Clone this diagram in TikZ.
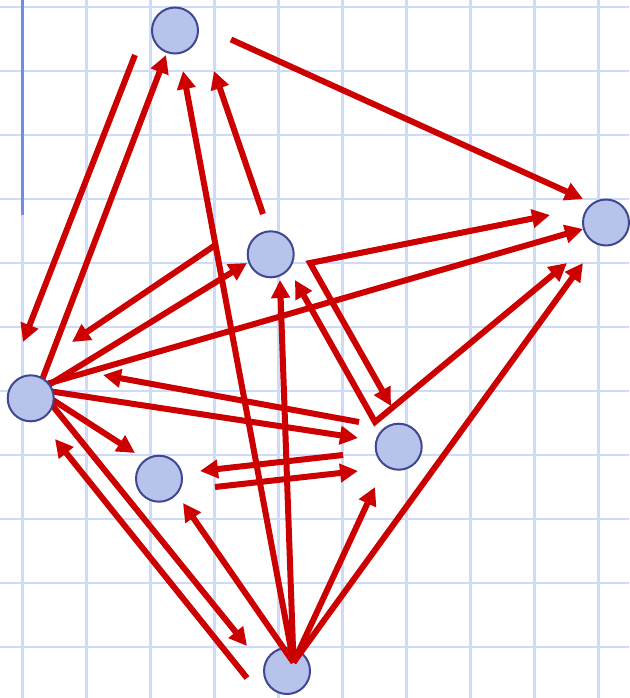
\documentclass[tikz,border=0pt]{standalone}
\usetikzlibrary{arrows.meta}
\definecolor{gridc}{RGB}{206,218,250}
\definecolor{vline}{RGB}{110,140,235}
\definecolor{nodefill}{RGB}{183,195,234}
\definecolor{nodeedge}{RGB}{62,72,142}
\definecolor{arred}{RGB}{204,0,0}
\tikzset{
  gridline/.style={draw=gridc, line width=2.7pt},
  vertex/.style={circle, draw=nodeedge, fill=nodefill, line width=2pt, inner sep=0pt, minimum size=46pt},
  link/.style={draw=arred, line width=6pt, -{Triangle[length=18pt,width=18pt]}},
  dlink/.style={draw=arred, line width=6pt, line join=miter, {Triangle[length=18pt,width=18pt]}-{Triangle[length=18pt,width=18pt]}},
  fromD/.style={shorten <=-8pt}
}
\begin{document}
\begin{tikzpicture}[x=1pt, y=-1pt]
\useasboundingbox (0,0) rectangle (629,698);
\fill[white] (0,0) rectangle (629,698);
% grid
\foreach \i in {0,...,9} { \draw[gridline] ({22.5+64*\i},0) -- ({22.5+64*\i},698); }
\foreach \j in {0,...,10} { \draw[gridline] (0,{7+64*\j}) -- (629,{7+64*\j}); }
\draw[draw=vline, line width=2.4pt] (22.5,0) -- (22.5,215);

% bottom node (drawn under its connectors)
\node[vertex] (G) at (287,671) {};

% connector end points
\coordinate (a1) at (231,39.5);  \coordinate (b1) at (583,199);
\coordinate (a2) at (135,55);    \coordinate (d2) at (23,342);
\coordinate (d3) at (42,380);    \coordinate (a3) at (166,55);
\coordinate (c4) at (263,214);   \coordinate (a4) at (214,71);
\coordinate (g0) at (293.5,662.5);
\coordinate (a5) at (183,71);
\coordinate (c6) at (214,246);   \coordinate (d6) at (72,342);
\coordinate (d7) at (47,386);    \coordinate (c7) at (247,263);
\coordinate (cx) at (310,263);   \coordinate (b8) at (550,215); \coordinate (e10) at (391,406);
\coordinate (d9) at (50,383);    \coordinate (b9) at (583,229);
\coordinate (ex) at (375,422);   \coordinate (c11) at (295,280); \coordinate (b12) at (567,263);
\coordinate (b13) at (583,263);
\coordinate (e14) at (359,422);  \coordinate (d14) at (103,375);
\coordinate (d15) at (55,392);   \coordinate (e15) at (358,438);
\coordinate (e16) at (343,455);  \coordinate (f16) at (200,471);
\coordinate (f17) at (215,487);  \coordinate (e17) at (358,471);
\coordinate (d18) at (53,400);   \coordinate (f18) at (135,453);
\coordinate (d19) at (52,405);   \coordinate (g19) at (247,646);
\coordinate (g20) at (247,678);  \coordinate (d20) at (55,439);
\coordinate (c21) at (280,280);
\coordinate (f22) at (183,503);
\coordinate (e23) at (375,487);

% connectors
\draw[link] (a1) -- (b1);
\draw[link] (a2) -- (d2);
\draw[link, fromD] (d3) -- (a3);
\draw[link] (c4) -- (a4);
\draw[link] (g0) -- (a5);
\draw[link] (c6) -- (d6);
\draw[link, fromD] (d7) -- (c7);
\draw[dlink] (b8) -- (cx) -- (e10);
\draw[link, fromD] (d9) -- (b9);
\draw[dlink] (c11) -- (ex) -- (b12);
\draw[link] (g0) -- (b13);
\draw[link] (e14) -- (d14);
\draw[link, fromD] (d15) -- (e15);
\draw[link] (e16) -- (f16);
\draw[link] (f17) -- (e17);
\draw[link, fromD] (d18) -- (f18);
\draw[link, fromD] (d19) -- (g19);
\draw[link] (g20) -- (d20);
\draw[link] (g0) -- (c21);
\draw[link] (g0) -- (f22);
\draw[link] (g0) -- (e23);

% nodes on top
\node[vertex] (A) at (175,30.5) {};
\node[vertex] (B) at (606,222.5) {};
\node[vertex] (C) at (270.7,254.3) {};
\node[vertex] (D) at (30.7,398.3) {};
\node[vertex] (E) at (398.7,446.7) {};
\node[vertex] (F) at (159,478.7) {};
\end{tikzpicture}
\end{document}
